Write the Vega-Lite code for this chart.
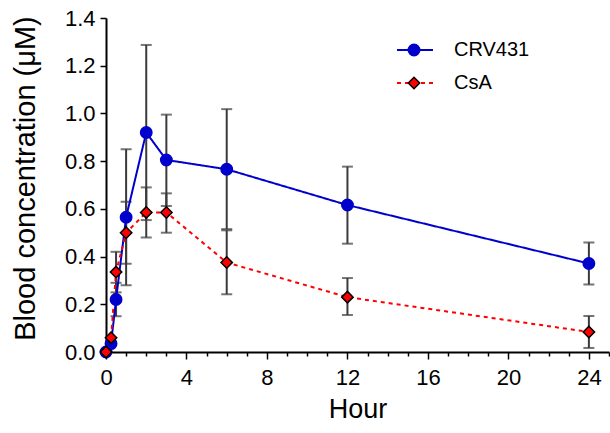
{
  "$schema": "https://vega.github.io/schema/vega-lite/v6.json",
  "width": 503,
  "height": 334,
  "autosize": {"type": "none"},
  "padding": {"left": 106, "top": 18, "right": 1, "bottom": 81},
  "background": "white",
  "config": {
    "view": {"stroke": null},
    "font": "Liberation Sans",
    "axis": {"grid": false, "domainColor": "black", "domainWidth": 2, "tickColor": "black", "tickWidth": 1.5, "labelColor": "black", "titleColor": "black", "labelFont": "Liberation Sans", "titleFont": "Liberation Sans", "labelFontSize": 22, "titleFontSize": 27, "titleFontWeight": "normal"}
  },
  "data": {
    "values": [
      {"hour": 0, "series": "CRV431", "conc": 0.0, "lo": null, "hi": null},
      {"hour": 0.25, "series": "CRV431", "conc": 0.035, "lo": null, "hi": null},
      {"hour": 0.5, "series": "CRV431", "conc": 0.22, "lo": 0.15, "hi": 0.29},
      {"hour": 1, "series": "CRV431", "conc": 0.565, "lo": 0.28, "hi": 0.85},
      {"hour": 2, "series": "CRV431", "conc": 0.92, "lo": 0.553, "hi": 1.287},
      {"hour": 3, "series": "CRV431", "conc": 0.805, "lo": 0.612, "hi": 0.995},
      {"hour": 6, "series": "CRV431", "conc": 0.766, "lo": 0.515, "hi": 1.018},
      {"hour": 12, "series": "CRV431", "conc": 0.616, "lo": 0.454, "hi": 0.777},
      {"hour": 24, "series": "CRV431", "conc": 0.371, "lo": 0.283, "hi": 0.459},
      {"hour": 0, "series": "CsA", "conc": 0.0, "lo": null, "hi": null},
      {"hour": 0.25, "series": "CsA", "conc": 0.06, "lo": null, "hi": null},
      {"hour": 0.5, "series": "CsA", "conc": 0.335, "lo": 0.25, "hi": 0.42},
      {"hour": 1, "series": "CsA", "conc": 0.5, "lo": 0.37, "hi": 0.63},
      {"hour": 2, "series": "CsA", "conc": 0.585, "lo": 0.48, "hi": 0.69},
      {"hour": 3, "series": "CsA", "conc": 0.585, "lo": 0.5, "hi": 0.665},
      {"hour": 6, "series": "CsA", "conc": 0.375, "lo": 0.242, "hi": 0.51},
      {"hour": 12, "series": "CsA", "conc": 0.23, "lo": 0.155, "hi": 0.31},
      {"hour": 24, "series": "CsA", "conc": 0.084, "lo": 0.017, "hi": 0.151}
    ]
  },
  "encoding": {
    "x": {
      "field": "hour", "type": "quantitative",
      "scale": {"domain": [0, 25], "nice": false, "zero": false},
      "axis": {
        "title": "Hour",
        "values": [0,1,2,3,4,5,6,7,8,9,10,11,12,13,14,15,16,17,18,19,20,21,22,23,24,25],
        "labelExpr": "datum.value % 4 === 0 ? datum.label : ''",
        "tickSize": {"condition": {"test": "datum.value % 4 === 0", "value": 7}, "value": 4},
        "labelPadding": 8,
        "titlePadding": 8,
        "labelFlush": false,
        "labelOverlap": false
      }
    },
    "y": {
      "field": "conc", "type": "quantitative",
      "scale": {"domain": [0, 1.4], "nice": false},
      "axis": {
        "title": "Blood concentration (μM)",
        "titleFontSize": 29,
        "titleY": 160,
        "values": [0, 0.2, 0.4, 0.6, 0.8, 1.0, 1.2, 1.4],
        "format": ".1f",
        "tickSize": 6,
        "labelPadding": 5,
        "titlePadding": 24,
        "labelFlush": false,
        "labelOverlap": false
      }
    }
  },
  "layer": [
    {
      "transform": [{"filter": "datum.lo != null"}],
      "mark": {"type": "rule", "color": "#3a3a3a", "strokeWidth": 2},
      "encoding": {"y": {"field": "lo", "type": "quantitative"}, "y2": {"field": "hi"}, "detail": {"field": "series"}}
    },
    {
      "transform": [{"filter": "datum.lo != null"}],
      "mark": {"type": "tick", "orient": "horizontal", "color": "#3a3a3a", "size": 11, "thickness": 2},
      "encoding": {"y": {"field": "lo", "type": "quantitative"}}
    },
    {
      "transform": [{"filter": "datum.lo != null"}],
      "mark": {"type": "tick", "orient": "horizontal", "color": "#3a3a3a", "size": 11, "thickness": 2},
      "encoding": {"y": {"field": "hi", "type": "quantitative"}}
    },
    {
      "mark": {"type": "line", "strokeWidth": 2},
      "encoding": {
        "stroke": {
          "field": "series", "type": "nominal",
          "scale": {"range": ["#0000cc", "#ff0000"]},
          "legend": {
            "orient": "none", "legendX": 290, "legendY": 13, "title": null, "padding": 0,
            "symbolType": "stroke", "symbolSize": 1296, "symbolStrokeWidth": 2,
            "labelFontSize": 20, "labelFont": "Liberation Sans", "labelColor": "black", "labelOffset": 20,
            "rowPadding": 4
          }
        },
        "strokeDash": {
          "field": "series", "type": "nominal",
          "scale": {"range": [[1, 0], [4, 4]]},
          "legend": {
            "orient": "none", "legendX": 290, "legendY": 13, "title": null, "padding": 0,
            "symbolType": "stroke", "symbolSize": 1296, "symbolStrokeWidth": 2,
            "labelFontSize": 20, "labelFont": "Liberation Sans", "labelColor": "black", "labelOffset": 20,
            "rowPadding": 4
          }
        }
      }
    },
    {
      "mark": {"type": "point", "filled": true, "size": 130, "strokeWidth": 1.5, "opacity": 1},
      "encoding": {
        "fill": {
          "field": "series", "type": "nominal",
          "scale": {"domain": ["CRV431", "CsA"], "range": ["#0000cc", "#ff0000"]},
          "legend": {
            "orient": "none", "legendX": 298, "legendY": 22, "title": null, "padding": 0,
            "symbolSize": 130, "symbolStrokeWidth": 1.5, "symbolOpacity": 1,
            "labelFontSize": 20, "labelExpr": "''", "labelOffset": 0, "rowPadding": 13
          }
        },
        "shape": {
          "field": "series", "type": "nominal",
          "scale": {"domain": ["CRV431", "CsA"], "range": ["circle", "diamond"]},
          "legend": {
            "orient": "none", "legendX": 298, "legendY": 22, "title": null, "padding": 0,
            "symbolSize": 130, "symbolStrokeWidth": 1.5, "symbolOpacity": 1,
            "labelFontSize": 20, "labelExpr": "''", "labelOffset": 0, "rowPadding": 13
          }
        },
        "stroke": {
          "field": "series", "type": "nominal",
          "scale": {"domain": ["CRV431", "CsA"], "range": ["#0000cc", "black"]},
          "legend": {
            "orient": "none", "legendX": 298, "legendY": 22, "title": null, "padding": 0,
            "symbolSize": 130, "symbolStrokeWidth": 1.5, "symbolOpacity": 1,
            "labelFontSize": 20, "labelExpr": "''", "labelOffset": 0, "rowPadding": 13
          }
        }
      }
    }
  ],
  "resolve": {"scale": {"stroke": "independent", "strokeDash": "independent", "fill": "independent", "shape": "independent"}}
}
